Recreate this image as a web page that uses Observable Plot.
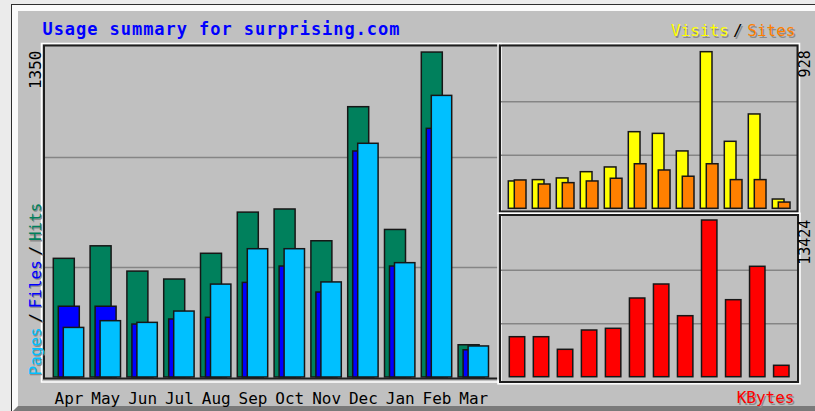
<!DOCTYPE html>
<html>
<head>
<meta charset="utf-8">
<script src="https://cdn.jsdelivr.net/npm/d3@7"></script>
<script src="https://cdn.jsdelivr.net/npm/@observablehq/plot@0.6"></script>
<style>
  html, body { margin: 0; padding: 0; background: #ebebeb; }
  #page { position: relative; width: 815px; height: 411px; overflow: hidden; background: #ebebeb; }
  #edge { position: absolute; left: 11px; top: 4px; width: 900px; height: 500px;
          border-left: 1.4px solid #2e2e2e; border-top: 1.4px solid #2e2e2e; }
  #img { position: absolute; left: 12.4px; top: 5.4px; width: 900px; height: 394.8px;
         background: #c0c0c0; border-left: 6.6px solid #fafafa; border-top: 6.6px solid #fafafa;
         border-bottom: 6px solid #7a7a7a; }
  #page svg { position: absolute; left: 0; top: 0; }
</style>
</head>
<body>
<div id="page">
  <div id="edge"></div>
  <div id="img"></div>
</div>
<script>
// ---- data ----
const months = ["Apr","May","Jun","Jul","Aug","Sep","Oct","Nov","Dec","Jan","Feb","Mar"];
const hits   = [493, 545, 440, 407, 514, 685, 698, 566, 1123, 613, 1350, 134];
const files  = [294, 294, 220, 241, 248, 393, 461, 353,  939, 461, 1033, 113];
const pages  = [206, 234, 227, 274, 386, 533, 533, 395,  971, 475, 1170, 129];
const visits = [162, 170, 180, 217, 245, 454, 444, 340,  928, 397,  559,  55];
const sites  = [168, 144, 152, 162, 178, 264, 227, 190,  264, 170,  170,  37];
const kbytes = [3427, 3427, 2347, 4001, 4146, 6742, 7941, 5226, 13424, 6597, 9458, 977];

const titleText = "Usage summary for surprising.com";
const maxLabels = {hits: "1350", visits: "928", kbytes: "13424"};
const legendMain = [
  {text: "Pages", color: "#00c0ff"},
  {text: "/", color: "#000000"},
  {text: "Files", color: "#0000ff"},
  {text: "/", color: "#000000"},
  {text: "Hits", color: "#00805c"}
];
const legendUpper = [
  {text: "Visits", color: "#ffff00"},
  {text: "/", color: "#000000"},
  {text: "Sites", color: "#ff8000"}
];
const legendLower = [{text: "KBytes", color: "#ff0000"}];

// scale tops (a bit above the largest bar, as in the original)
const mainTop = 1371, upperTop = 951, lowerTop = 13750;

// ---- build tables ----
const mainData = months.map((m, i) => ({month: m, hits: hits[i], files: files[i], pages: pages[i]}));
const upperData = months.map((m, i) => ({month: m, visits: visits[i], sites: sites[i]}));
const lowerData = months.map((m, i) => ({month: m, kbytes: kbytes[i]}));
const grid = top => [top / 3, 2 * top / 3];

const MONO = "'DejaVu Sans Mono', 'Liberation Mono', monospace";
const W = 815, H = 411;
const barStyle = {stroke: "#161616", strokeWidth: 1.5};
const gridStyle = {stroke: "#858585", strokeWidth: 1.6};
const svgStyle = {background: "transparent", fontFamily: MONO, fontSize: "16px", color: "#000", overflow: "visible"};

function label(str, opts, color, shadow) {
  const base = {text: d => d, fontFamily: MONO, fontSize: 16, ...opts};
  const marks = [];
  if (shadow) marks.push(Plot.text([str], {...base, fill: "#8c8c8c", dx: (opts.dx || 0) + 1.3, dy: (opts.dy || 0) + 1.3}));
  marks.push(Plot.text([str], {...base, fill: color}));
  return marks;
}

// main legend offsets along the vertical (monospace cells of 9.6px + gaps)
const cell = 9.6, gap = 1.6;
const mainLegendOffsets = [0, 5 * cell + 3 * gap, 5 * cell + 12 * gap, 10 * cell + 15 * gap, 10 * cell + 24 * gap];

// ---- main panel ----
const main = Plot.plot({
  width: W, height: H,
  marginLeft: 44, marginRight: 317, marginTop: 47, marginBottom: 34,
  style: svgStyle,
  x: {type: "band", domain: months, range: [53.3, 488.5], paddingInner: 0.174, paddingOuter: 0, round: false,
      tickSize: 0, tickPadding: 14.7, label: null},
  y: {domain: [0, mainTop], axis: null},
  marks: [
    Plot.ruleY(grid(mainTop), gridStyle),
    Plot.barY(mainData, {x: "month", y: "hits", fill: "#00805c", insetRight: 9.4, ...barStyle}),
    Plot.barY(mainData, {x: "month", y: "files", fill: "#0000ff", insetLeft: 5, insetRight: 4.4, ...barStyle}),
    Plot.barY(mainData, {x: "month", y: "pages", fill: "#00c0ff", insetLeft: 10, ...barStyle}),
    Plot.frame({stroke: "#ffffff", strokeWidth: 1.5, insetLeft: -3, insetTop: -4, insetRight: -2.5, insetBottom: -4.5}),
    Plot.frame({stroke: "#1e1e1e", strokeWidth: 2, insetLeft: -0.5, insetTop: -2, insetBottom: -1}),
    ...label(titleText, {frameAnchor: "top-left", textAnchor: "start", lineAnchor: "middle", dx: -2, dy: -18.2,
                         fontWeight: "bold", fontSize: 17}, "#0000ff", false),
    ...label(maxLabels.hits, {frameAnchor: "top-left", textAnchor: "end", lineAnchor: "middle", rotate: -90,
                              dx: -9, dy: 3}, "#000", false),
    ...legendMain.flatMap((p, i) => label(p.text, {frameAnchor: "bottom-left", textAnchor: "start", lineAnchor: "middle",
                              rotate: -90, dx: -9, dy: -2 - mainLegendOffsets[i]}, p.color, true))
  ]
});
main.querySelectorAll("text").forEach(t => { if (t.textContent === titleText) t.setAttribute("letter-spacing", "0.95"); });

// ---- upper right panel: visits / sites ----
const upper = Plot.plot({
  width: W, height: H,
  marginLeft: 499, marginRight: 18, marginTop: 47.8, marginBottom: 202.7,
  style: svgStyle,
  x: {type: "band", domain: months, range: [508.3, 790], paddingInner: 0.2625, paddingOuter: 0, round: false, axis: null},
  y: {domain: [0, upperTop], axis: null},
  marks: [
    Plot.ruleY(grid(upperTop), gridStyle),
    Plot.barY(upperData, {x: "month", y: "visits", fill: "#ffff00", insetRight: 6, ...barStyle}),
    Plot.barY(upperData, {x: "month", y: "sites", fill: "#ff8000", insetLeft: 6, ...barStyle}),
    Plot.frame({stroke: "#ffffff", strokeWidth: 1.5, insetLeft: -1.5, insetRight: -2, insetTop: -4.8, insetBottom: -4.5}),
    Plot.frame({stroke: "#1e1e1e", strokeWidth: 2, insetLeft: 0.5, insetTop: -2.8, insetBottom: -2.7}),
    ...label(maxLabels.visits, {frameAnchor: "top-right", textAnchor: "end", lineAnchor: "middle", rotate: -90,
                                dx: 8, dy: 2, fontSize: 15}, "#000", false),
    ...label(legendUpper[0].text, {frameAnchor: "top-right", textAnchor: "start", lineAnchor: "middle", dx: -126.5, dy: -17.1}, legendUpper[0].color, true),
    ...label(legendUpper[1].text, {frameAnchor: "top-right", textAnchor: "start", lineAnchor: "middle", dx: -64.4, dy: -17.1}, legendUpper[1].color, true),
    ...label(legendUpper[2].text, {frameAnchor: "top-right", textAnchor: "end", lineAnchor: "middle", dx: -2, dy: -17.1}, legendUpper[2].color, true)
  ]
});

// ---- lower right panel: kbytes ----
const lower = Plot.plot({
  width: W, height: H,
  marginLeft: 499, marginRight: 18, marginTop: 216.2, marginBottom: 34.3,
  style: svgStyle,
  x: {type: "band", domain: months, range: [509.3, 789], paddingInner: 0.358, paddingOuter: 0, round: false, axis: null},
  y: {domain: [0, lowerTop], axis: null},
  marks: [
    Plot.ruleY(grid(lowerTop), gridStyle),
    Plot.barY(lowerData, {x: "month", y: "kbytes", fill: "#ff0000", ...barStyle}),
    Plot.frame({stroke: "#ffffff", strokeWidth: 1.5, insetLeft: -1.5, insetRight: -2.5, insetTop: -3.4, insetBottom: -6.6}),
    Plot.frame({stroke: "#1e1e1e", strokeWidth: 2, insetLeft: 0.5, insetRight: -0.5, insetTop: -1.7, insetBottom: -4.8}),
    ...label(maxLabels.kbytes, {frameAnchor: "top-right", textAnchor: "end", lineAnchor: "middle", rotate: -90,
                                dx: 8, dy: 3, fontSize: 15}, "#000", false),
    ...label(legendLower[0].text, {frameAnchor: "bottom-right", textAnchor: "end", lineAnchor: "middle", dx: -3, dy: 21}, legendLower[0].color, true)
  ]
});

const page = document.getElementById("page");
page.appendChild(main);
page.appendChild(upper);
page.appendChild(lower);
</script>
</body>
</html>
